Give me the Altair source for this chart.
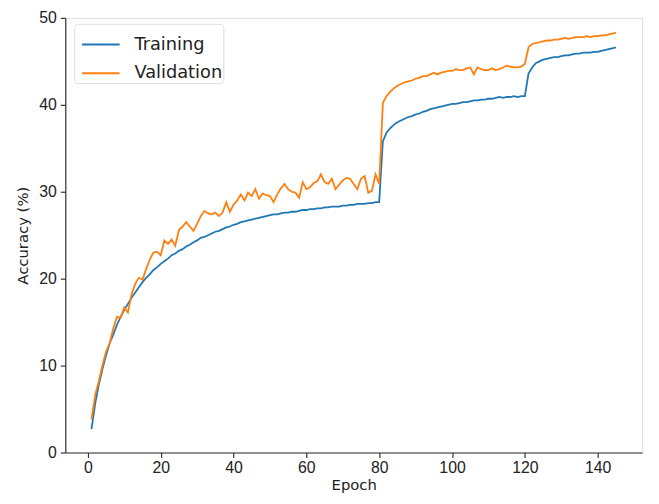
import altair as alt
import pandas as pd

epochs = list(range(1, 146))

training = [
    2.7, 5.6, 7.8, 9.6, 11.2, 12.6, 13.6, 14.7, 15.6, 16.4,
    17.1, 17.8, 18.4, 19.0, 19.6, 20.1, 20.5, 21.0, 21.3, 21.7,
    22.0, 22.3, 22.7, 22.9, 23.2, 23.4, 23.7, 23.9, 24.2, 24.4,
    24.7, 24.8, 25.0, 25.2, 25.4, 25.5, 25.7, 25.9, 26.0, 26.2,
    26.3, 26.5, 26.6, 26.7, 26.8, 26.9, 27.0, 27.1, 27.2, 27.3,
    27.4, 27.4, 27.5, 27.6, 27.6, 27.7, 27.7, 27.8, 27.9, 27.9,
    28.0, 28.0, 28.1, 28.1, 28.2, 28.2, 28.3, 28.3, 28.3, 28.4,
    28.4, 28.5, 28.5, 28.6, 28.6, 28.6, 28.7, 28.7, 28.8, 28.8,
    35.8, 36.8, 37.3, 37.7, 38.0, 38.2, 38.4, 38.6, 38.7, 38.9,
    39.0, 39.2, 39.3, 39.5, 39.6, 39.7, 39.8, 39.9, 40.0, 40.1,
    40.1, 40.2, 40.3, 40.3, 40.4, 40.5, 40.5, 40.6, 40.6, 40.7,
    40.7, 40.8, 40.9, 40.8, 40.9, 40.9, 41.0, 40.9, 41.0, 41.0,
    43.6, 44.3, 44.8, 45.0, 45.2, 45.3, 45.4, 45.5, 45.5, 45.6,
    45.7, 45.7, 45.8, 45.9, 45.9, 46.0, 46.0, 46.0, 46.1, 46.1,
    46.2, 46.3, 46.4, 46.5, 46.6,
]

validation = [
    3.8, 6.6, 8.2, 10.0, 11.6, 12.6, 14.3, 15.6, 15.5, 16.7,
    16.1, 18.2, 19.4, 20.1, 19.9, 21.1, 22.2, 23.0, 23.1, 22.7,
    24.4, 24.0, 24.5, 23.8, 25.6, 26.0, 26.5, 26.0, 25.5, 26.3,
    27.2, 27.8, 27.5, 27.4, 27.6, 27.2, 27.6, 28.8, 27.7, 28.5,
    29.0, 29.7, 29.0, 29.9, 29.5, 30.3, 29.2, 29.8, 29.6, 29.5,
    28.8, 29.7, 30.4, 30.9, 30.3, 30.0, 29.9, 29.3, 31.1, 30.3,
    30.5, 31.0, 31.2, 32.0, 31.1, 30.9, 31.5, 30.3, 30.8, 31.3,
    31.6, 31.5, 30.9, 30.3, 31.5, 31.8, 29.9, 30.1, 32.0, 30.9,
    40.2, 41.0, 41.5, 41.9, 42.2, 42.4, 42.6, 42.7, 42.8, 43.0,
    43.1, 43.3, 43.3, 43.5, 43.7, 43.5, 43.7, 43.8, 43.9, 43.9,
    44.1, 44.0, 44.0, 44.2, 44.3, 43.5, 44.3, 44.1, 44.0, 44.0,
    44.2, 44.0, 44.1, 44.3, 44.5, 44.4, 44.3, 44.3, 44.4, 44.7,
    46.6, 47.0, 47.1, 47.2, 47.3, 47.4, 47.4, 47.5, 47.5, 47.6,
    47.7, 47.6, 47.7, 47.8, 47.8, 47.8, 47.9, 47.8, 47.9, 47.9,
    48.0, 48.0, 48.1, 48.2, 48.3,
]

series_names = ["Training", "Validation"]
series_colors = ["#1f77b4", "#ff7f0e"]
x_ticks = [0, 20, 40, 60, 80, 100, 120, 140]
y_ticks = [0, 10, 20, 30, 40, 50]

df = pd.DataFrame({
    "Epoch": epochs * 2,
    "Accuracy": training + validation,
    "Series": [series_names[0]] * len(epochs) + [series_names[1]] * len(epochs),
})

axis_common = dict(
    grid=False,
    domainColor="#333333",
    domainWidth=1.2,
    tickColor="#333333",
    tickWidth=1.2,
    tickSize=5,
    labelColor="#222222",
    labelFont="Liberation Sans",
    labelFontSize=16,
    titleColor="#222222",
    titleFont="DejaVu Sans",
    titleFontSize=15,
    titleFontWeight="normal",
)

chart = alt.Chart(df).mark_line(strokeWidth=1.8).encode(
    x=alt.X(
        "Epoch:Q",
        scale=alt.Scale(domain=[-6.2, 152.2], nice=False, zero=False),
        axis=alt.Axis(values=x_ticks, title="Epoch", titleBaseline="alphabetic",
                      titleY=37, labelPadding=2, **axis_common),
    ),
    y=alt.Y(
        "Accuracy:Q",
        scale=alt.Scale(domain=[0, 50], nice=False),
        axis=alt.Axis(values=y_ticks, title="Accuracy (%)", titlePadding=8,
                      labelPadding=4, **axis_common),
    ),
    color=alt.Color(
        "Series:N",
        scale=alt.Scale(domain=series_names, range=series_colors),
        legend=alt.Legend(
            title=None,
            orient="none",
            legendX=9,
            legendY=6,
            symbolType="stroke",
            symbolSize=1444,
            symbolStrokeWidth=2,
            symbolOffset=6,
            labelFont="DejaVu Sans",
            labelFontSize=18,
            labelColor="#222222",
            rowPadding=-2,
            padding=1,
            strokeColor="#dddddd",
            fillColor="white",
            cornerRadius=4,
            labelOffset=14,
        ),
    ),
).properties(
    width=584,
    height=440,
    autosize=alt.AutoSizeParams(type="none"),
    padding={"left": 58, "top": 7, "right": 9, "bottom": 41},
).configure_view(stroke=None).configure(background="white")

chart.save("out.html", embed_options={"renderer": "svg", "actions": False})
